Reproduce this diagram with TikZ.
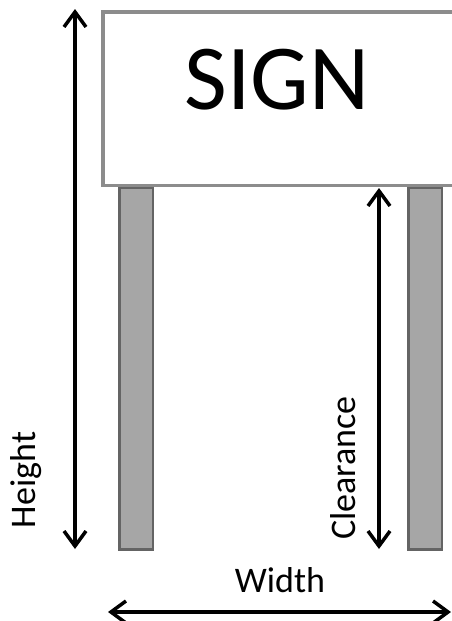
\documentclass[tikz,border=0pt]{standalone}
\usepackage{fontspec}
\setmainfont{Carlito}
\usetikzlibrary{arrows.meta}
\definecolor{boxedge}{HTML}{8C8C8C}
\definecolor{postfill}{HTML}{A6A6A6}
\definecolor{postedge}{HTML}{646464}

\begin{document}
\begin{tikzpicture}
  [x=1pt,y=-1pt,
   dim/.style={line width=3.5pt,{Straight Barb[length=15pt,width=22pt]}-{Straight Barb[length=15pt,width=22pt]}},
   post/.style={draw=postedge,fill=postfill,line width=2.5pt,minimum width=33.5pt,minimum height=362pt,inner sep=0pt},
   signbox/.style={draw=boxedge,fill=white,line width=3.5pt,minimum width=377pt,minimum height=173.5pt,inner sep=0pt},
   lbl/.style={font=\fontsize{36}{40}\selectfont,inner sep=0pt}]
  \useasboundingbox (0,0) rectangle (452,621);
  \clip (0,0) rectangle (452,621);

  \node[post] (leftpost) at (136,368.5) {};
  \node[post] (rightpost) at (425,368.5) {};
  \node[signbox] (sign) at (291.5,98.5) {};
  \node[font=\fontsize{93}{100}\selectfont,inner sep=0pt] (signtext) at (277,80) {SIGN};

  \coordinate (htop) at (75,9);
  \coordinate (hbot) at (75,549);
  \coordinate (ctop) at (379,188);
  \coordinate (cbot) at (379,549);
  \coordinate (wleft) at (108,612);
  \coordinate (wright) at (451,612);

  \foreach \from/\to in {htop/hbot,ctop/cbot,wleft/wright}
    \draw[dim] (\from) -- (\to);

  \node[lbl,rotate=90,anchor=base] (height) at (35,480) {Height};
  \node[lbl,rotate=90,anchor=base] (clearance) at (355,468) {Clearance};
  \node[lbl,anchor=base] (width) at (280,592) {Width};

\end{tikzpicture}
\end{document}
